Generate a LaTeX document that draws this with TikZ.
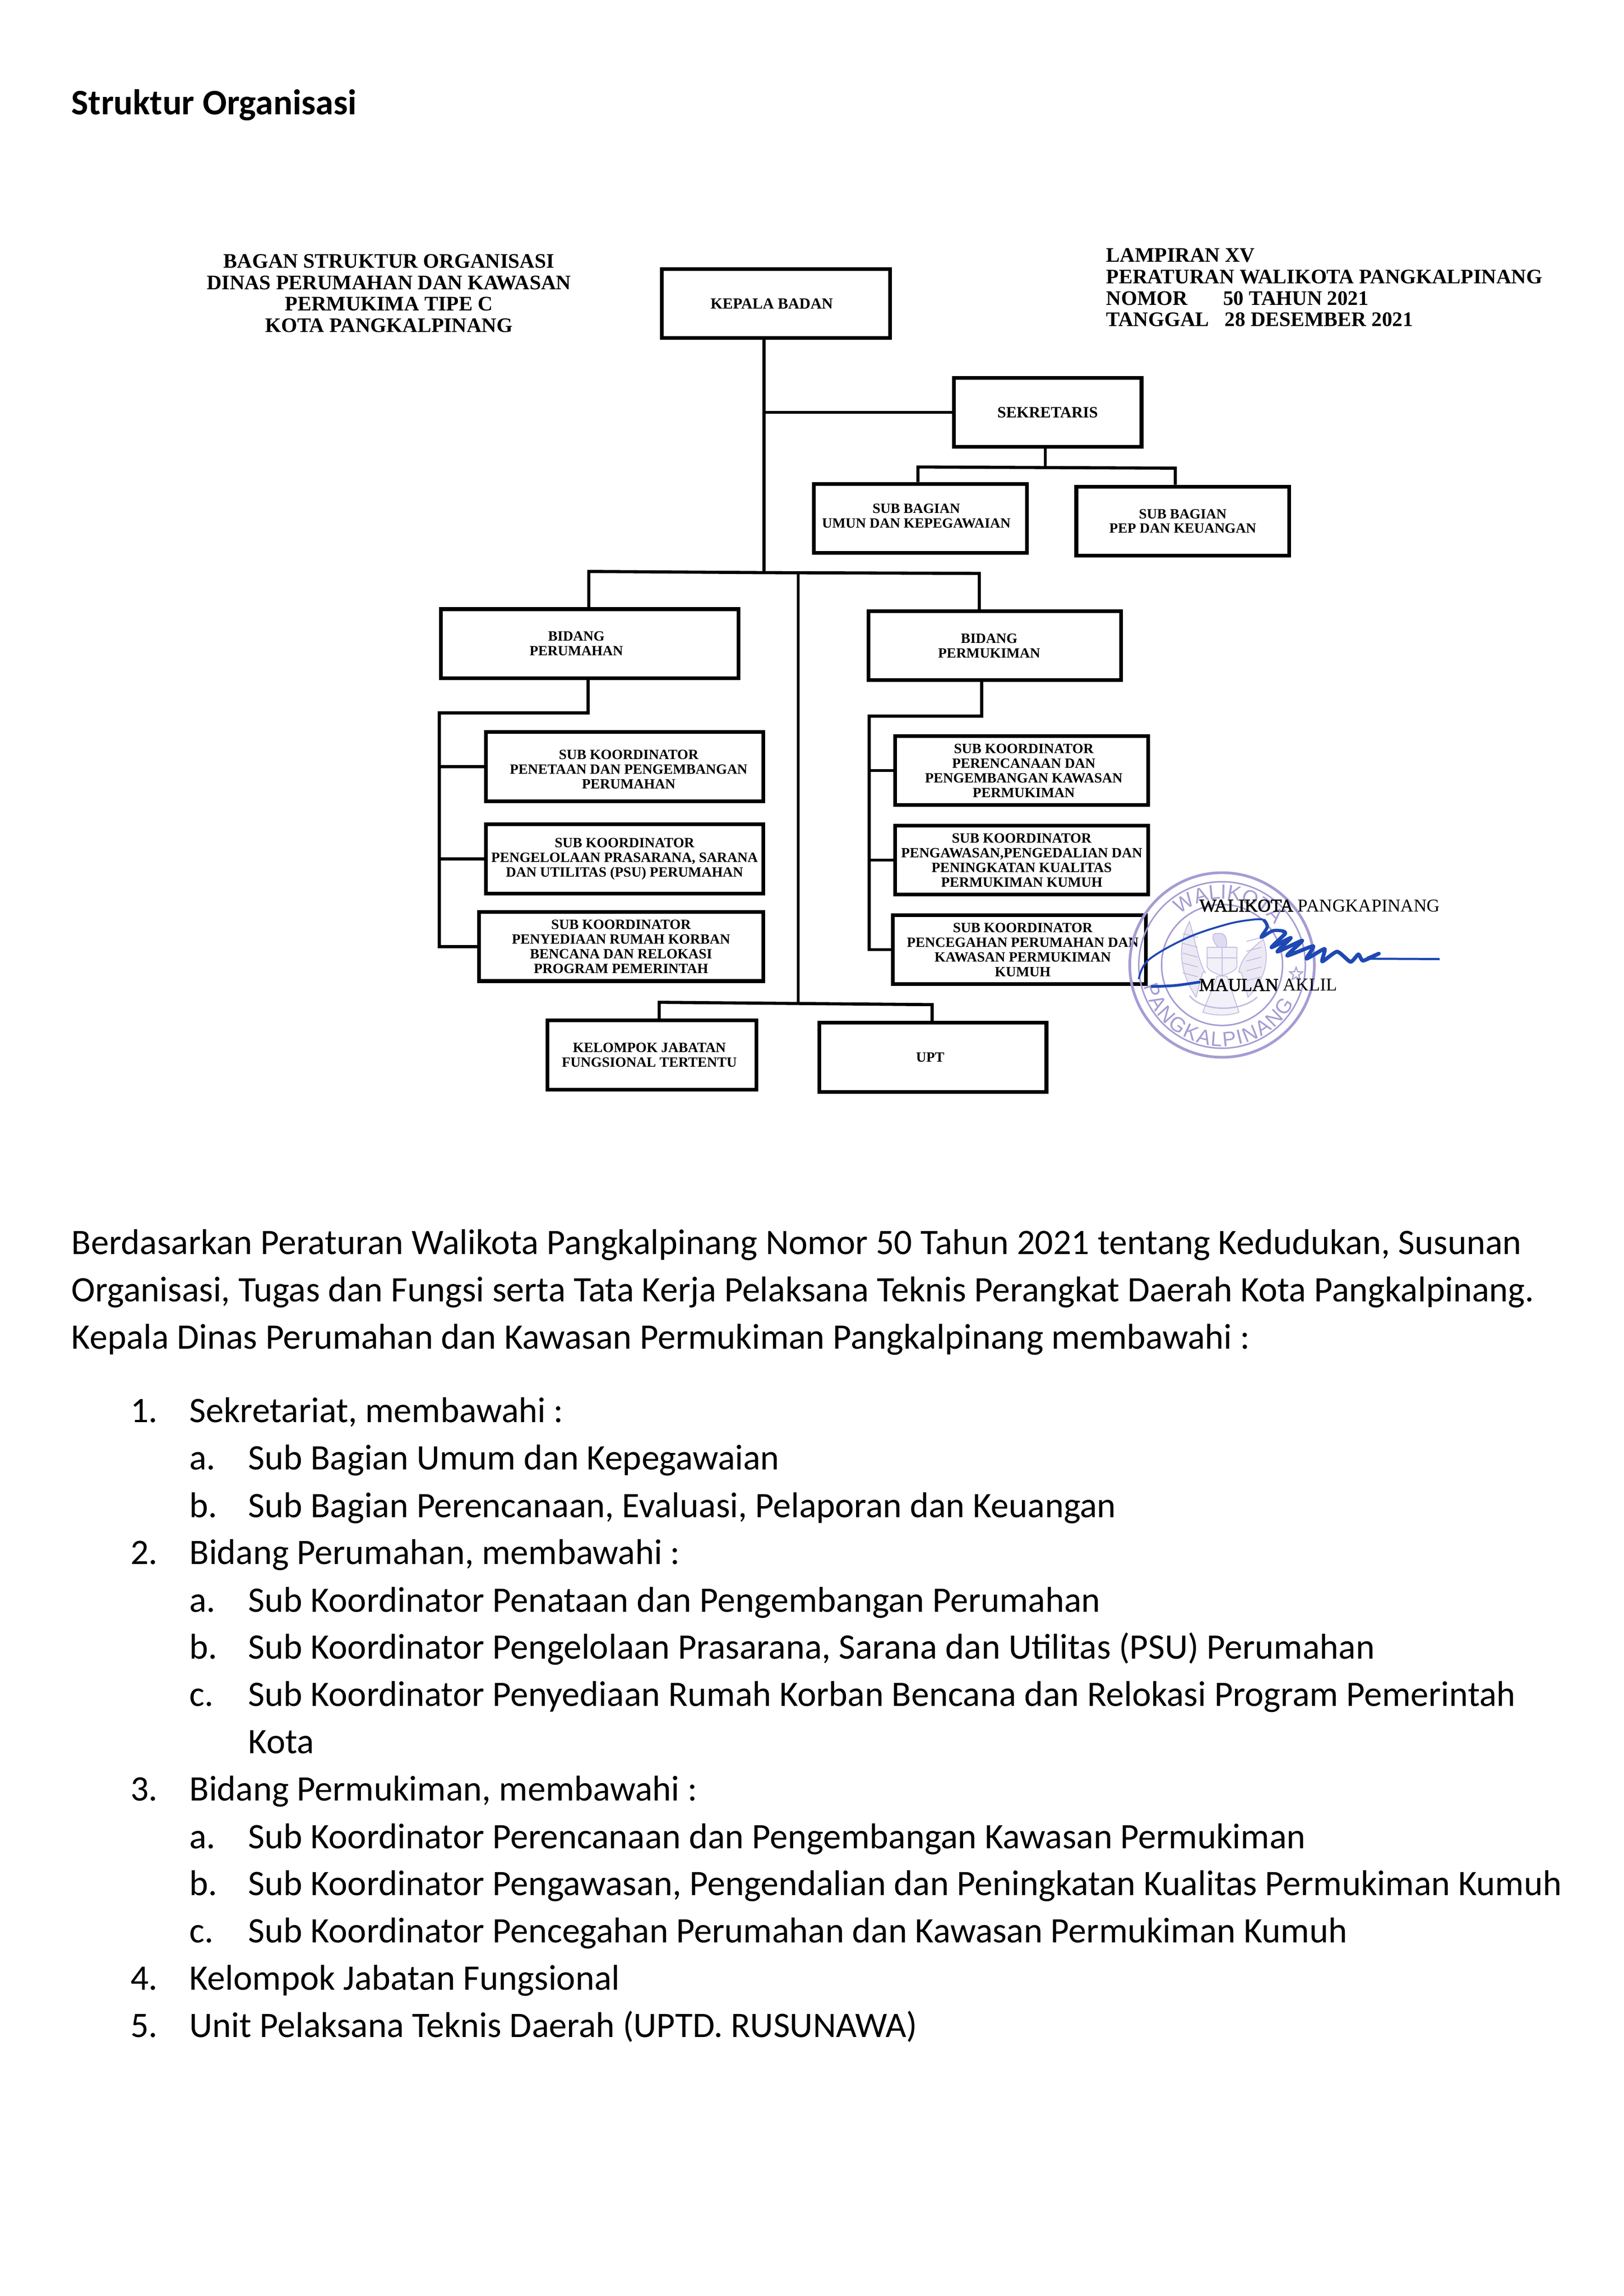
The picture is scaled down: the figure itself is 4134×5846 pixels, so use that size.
\documentclass[tikz,border=0pt]{standalone}
\usepackage{fontspec}
\setmainfont{Carlito}
\newfontfamily\bagan{Liberation Serif}
\newfontface\baganhitam[FakeBold=2]{Liberation Serif}
\newfontfamily\stempelfont{Liberation Sans}
\usetikzlibrary{positioning,calc,decorations.text,shapes.geometric}
\definecolor{stempel}{HTML}{A79CD3}
\definecolor{pena}{HTML}{1E48B4}
\tikzset{
  kotak/.style={draw,line width=1.37pt,inner sep=0pt,minimum height=176*0.14453pt,align=center,
    font=\bagan\bfseries\fontsize{5.2}{5.4}\selectfont},
  garis/.style={line width=1.15pt},
  kepalan/.style={font=\bagan\bfseries\fontsize{7.6}{7.9}\selectfont,inner sep=0pt},
  ttd/.style={font=\bagan\fontsize{6.65}{7}\selectfont,inner sep=0pt,anchor=base west},
  teks/.style={font=\fontsize{13.2}{16}\selectfont,inner sep=0pt,anchor=base west},
  cincin/.style={draw=stempel,line width=0.55pt},
  gambar/.style={draw=stempel!70,line width=0.3pt}
}
\begin{document}
\begin{tikzpicture}[x=0.14453pt,y=-0.14453pt]
\useasboundingbox (0,0) rectangle (4134,5846);
\fill[white] (0,0) rectangle (4134,5846);

% judul
\node[teks,font=\fontsize{13.2}{16}\selectfont\bfseries] (judul) at (181,292) {Struktur Organisasi};
\node[kepalan,align=center] (bagan) at (990,747) {BAGAN STRUKTUR ORGANISASI\\DINAS PERUMAHAN DAN KAWASAN\\PERMUKIMA TIPE C\\KOTA PANGKALPINANG};
\node[kepalan,align=left,anchor=west] (lampiran) at (2815,732) {LAMPIRAN XV\\PERATURAN WALIKOTA PANGKALPINANG\\\makebox[43pt][l]{NOMOR}50 TAHUN 2021\\\makebox[43.6pt][l]{TANGGAL}28 DESEMBER 2021};

% kotak
\node[kotak,minimum width=581*0.14453pt,font=\bagan\bfseries\fontsize{5.7}{5.8}\selectfont] (kepala) at (1975,773) {\hspace*{-3pt}KEPALA BADAN};
\node[kotak,minimum width=478*0.14453pt,font=\bagan\bfseries\fontsize{5.8}{5.8}\selectfont] (sekretaris) at (2667,1050) {SEKRETARIS};
\node[kotak,minimum width=542*0.14453pt] (umum) at (2343,1320) {\hspace*{-3pt}SUB BAGIAN\\\hspace*{-3pt}UMUN DAN KEPEGAWAIAN\rule[-2pt]{0pt}{2pt}};
\node[kotak,minimum width=542*0.14453pt] (pep) at (3011,1327) {SUB BAGIAN\\PEP DAN KEUANGAN};
\node[kotak,minimum width=758*0.14453pt] (perumahan) at (1501,1639) {\hspace*{-9.8pt}BIDANG\\\hspace*{-9.8pt}PERUMAHAN};
\node[kotak,minimum width=643*0.14453pt] (permukiman) at (2532,1644) {\hspace*{-4pt}BIDANG\\\hspace*{-4pt}PERMUKIMAN};
\node[kotak,minimum width=707*0.14453pt] (penataan) at (1590,1952) {\hspace*{3pt}\rule{0pt}{5.4pt}SUB KOORDINATOR\\\hspace*{3pt}PENETAAN DAN PENGEMBANGAN\\\hspace*{3pt}PERUMAHAN};
\node[kotak,minimum width=707*0.14453pt] (psu) at (1590,2187) {SUB KOORDINATOR\\PENGELOLAAN PRASARANA, SARANA\\DAN UTILITAS (PSU) PERUMAHAN};
\node[kotak,minimum width=724*0.14453pt] (korban) at (1581,2410) {SUB KOORDINATOR\\PENYEDIAAN RUMAH KORBAN\\BENCANA DAN RELOKASI\\PROGRAM PEMERINTAH};
\node[kotak,minimum width=644*0.14453pt] (rencana) at (2601,1962) {\hspace*{1.5pt}SUB KOORDINATOR\\\hspace*{1.5pt}PERENCANAAN DAN\\\hspace*{1.5pt}PENGEMBANGAN KAWASAN\\\hspace*{1.5pt}PERMUKIMAN};
\node[kotak,minimum width=644*0.14453pt] (awas) at (2601,2190) {SUB KOORDINATOR\\PENGAWASAN,PENGEDALIAN DAN\\PENINGKATAN KUALITAS\\PERMUKIMAN KUMUH};
\node[kotak,minimum width=644*0.14453pt] (cegah) at (2595,2418) {\hspace*{2.5pt}SUB KOORDINATOR\\\hspace*{2.5pt}PENCEGAHAN PERUMAHAN DAN\\\hspace*{2.5pt}KAWASAN PERMUKIMAN\\\hspace*{2.5pt}KUMUH};
\node[kotak,minimum width=532*0.14453pt] (kelompok) at (1660,2686) {\hspace*{-2pt}KELOMPOK JABATAN\\\hspace*{-2pt}FUNGSIONAL TERTENTU};
\node[kotak,minimum width=578*0.14453pt] (upt) at (2375,2692) {\hspace*{-2pt}UPT};

% garis
\coordinate (simpul) at (1945,1458);
\coordinate (sekA) at (2337,1189);
\coordinate (sekB) at (2992,1192);
\coordinate (sekC) at (2661,1190);
\coordinate (bidA) at (1499,1455);
\coordinate (bidB) at (2493,1460);
\coordinate (tengahA) at (2032,1460);
\coordinate (tengahB) at (2032,2555);
\coordinate (bawahA) at (1678,2552);
\coordinate (bawahB) at (2373,2558);
\coordinate (kiriA) at (1497,1815);
\coordinate (kiriB) at (1118,1815);
\coordinate (kananA) at (2499,1823);
\coordinate (kananB) at (2213,1823);
\draw[garis] (kepala.south -| simpul) -- (simpul);
\draw[garis] (simpul |- sekretaris.west) -- (sekretaris.west);
\draw[garis] (sekretaris.south -| sekC) -- (sekC);
\draw[garis] (umum.north -| sekA) -- (sekA) -- (sekB) -- (pep.north -| sekB);
\draw[garis] (perumahan.north -| bidA) -- (bidA) -- (simpul) -- (bidB) -- (permukiman.north -| bidB);
\draw[garis] (tengahA) -- (tengahB);
\draw[garis] (kelompok.north -| bawahA) -- (bawahA) -- (bawahB) -- (upt.north -| bawahB);
\draw[garis] (perumahan.south -| kiriA) -- (kiriA) -- (kiriB) -- (kiriB |- korban.west) -- (korban.west);
\draw[garis] (kiriB |- penataan.west) -- (penataan.west);
\draw[garis] (kiriB |- psu.west) -- (psu.west);
\draw[garis] (permukiman.south -| kananA) -- (kananA) -- (kananB) -- (kananB |- cegah.west) -- (cegah.west);
\draw[garis] (kananB |- rencana.west) -- (rencana.west);
\draw[garis] (kananB |- awas.west) -- (awas.west);

% stempel
\begin{scope}[shift={(3111,2457)},x=14.453pt,y=14.453pt]
\draw[cincin,line width=1pt] (0,0) circle (2.35);
\draw[cincin] (0,0) circle (2.12);
\draw[cincin] (0,0) circle (1.54);
\path[decorate,decoration={text along path,text align={fit to path},
  text={|\stempelfont\fontsize{7.6}{7.6}\selectfont\color{stempel}|WALIKOTA}}]
  (130:1.68) arc (130:38:1.68);
\path[decorate,decoration={text along path,text align={fit to path},
  text={|\stempelfont\fontsize{7.6}{7.6}\selectfont\color{stempel}|PANGKALPINANG}}]
  (195:2.07) arc (195:332:2.07);
\node[star,star points=5,star point ratio=2.4,draw=stempel,inner sep=0pt,minimum size=5pt] (bintang) at (-7:1.9) {};
% garuda
\filldraw[gambar,fill=stempel!22] (-.83,1.11) .. controls (-1.1,.6) and (-1.15,-.1) .. (-.66,-.82)
  .. controls (-.55,-.4) and (-.5,-.1) .. (-.43,-.19) .. controls (-.6,.1) and (-.65,.5) .. cycle;
\filldraw[gambar,fill=stempel!22] (1.05,.65) .. controls (1.2,.2) and (1.15,-.3) .. (.66,-.82)
  .. controls (.55,-.4) and (.5,-.1) .. (.43,-.19) .. controls (.45,.1) and (.7,.4) .. cycle;
\filldraw[gambar,fill=stempel!15] (-.38,.45) -- (.38,.45) -- (.38,-.05) .. controls (.3,-.2) and (.1,-.22) .. (0,-.28)
  .. controls (-.1,-.22) and (-.3,-.2) .. (-.38,-.05) -- cycle;
\draw[gambar] (-.38,.18) -- (.38,.18) (0,.45) -- (0,-.28);
\filldraw[gambar,fill=stempel!35] (-.1,.45) .. controls (-.25,.6) and (-.3,.85) .. (-.1,.8)
  .. controls (.1,.85) and (.15,.6) .. (.1,.45) -- cycle;
\filldraw[gambar,fill=stempel!15] (-.12,-.28) -- (-.49,-1.2) .. controls (-.2,-1.3) and (.2,-1.3) .. (.43,-1.2) -- (.12,-.28) -- cycle;
\draw[gambar,line width=.5pt] (-.83,-.78) .. controls (-.5,-1.2) and (.5,-1.2) .. (.89,-.82);
\foreach \h in {-.3,-.05,...,.7} {
  \draw[gambar] (-.62,\h) -- (-1,\h+.1);
  \draw[gambar] (.62,\h-.1) -- (1,\h);
}
% tanda tangan
\draw[pena,line width=.7pt] plot[smooth,tension=.6] coordinates {(-2.12,-.36) (-1.87,.13) (-.89,.69) (.14,1.04) (.83,1.16) (1.06,1.15)};
\draw[pena,line width=1.2pt] plot[smooth,tension=.6] coordinates {(1.06,1.15) (1.15,.97) (1,.71) (1.29,.87) (1.52,.87)};
\draw[pena,line width=1.4pt,line join=round] plot[smooth,tension=.35] coordinates {(1.52,.87) (1.61,.8) (1.26,.45) (1.75,.69) (1.41,.34) (2.04,.62) (1.66,.24) (2.32,.48) (2.15,.16) (2.61,.41) (2.55,.09) (2.93,.34) (3.27,.08) (3.47,.27) (3.59,.11) (3.99,.29) (3.7,.16)};
\draw[pena,line width=.8pt] (3.7,.16) -- (5.54,.15);
\draw[pena,line width=1pt] plot[smooth,tension=.6] coordinates {(-1.81,-.55) (-1.18,-.52) (-.55,-.43)};
\end{scope}
\node[ttd] (walikota) at (3052,2321) {{\baganhitam WALIKOTA} PANGKAPINANG};
\node[ttd] (maulan) at (3051,2523) {{\baganhitam MAULAN} AKLIL};

% uraian
\node[teks] (baris1) at (181,3194) {Berdasarkan Peraturan Walikota Pangkalpinang Nomor 50 Tahun 2021 tentang Kedudukan, Susunan};
\node[teks] (baris2) at (181,3314) {Organisasi, Tugas dan Fungsi serta Tata Kerja Pelaksana Teknis Perangkat Daerah Kota Pangkalpinang.};
\node[teks] (baris3) at (181,3435) {Kepala Dinas Perumahan dan Kawasan Permukiman Pangkalpinang membawahi :};
\foreach \y/\lab/\isi in {3622/1./{Sekretariat, membawahi :},3983/2./{Bidang Perumahan, membawahi :},
  4585/3./{Bidang Permukiman, membawahi :},5067/4./{Kelompok Jabatan Fungsional},5187/5./{Unit Pelaksana Teknis Daerah (UPTD. RUSUNAWA)}} {
  \node[teks] (nomor\y) at (331,\y) {\lab};
  \node[teks] (isi\y) at (481,\y) {\isi};
}
\foreach \y/\lab/\isi in {3742/a./{Sub Bagian Umum dan Kepegawaian},3863/b./{Sub Bagian Perencanaan, Evaluasi, Pelaporan dan Keuangan},
  4104/a./{Sub Koordinator Penataan dan Pengembangan Perumahan},4224/b./{Sub Koordinator Pengelolaan Prasarana, Sarana dan Utilitas (PSU) Perumahan},
  4344/c./{Sub Koordinator Penyediaan Rumah Korban Bencana dan Relokasi Program Pemerintah},
  4706/a./{Sub Koordinator Perencanaan dan Pengembangan Kawasan Permukiman},4826/b./{Sub Koordinator Pengawasan, Pengendalian dan Peningkatan Kualitas Permukiman Kumuh},
  4946/c./{Sub Koordinator Pencegahan Perumahan dan Kawasan Permukiman Kumuh}} {
  \node[teks] (huruf\y) at (481,\y) {\lab};
  \node[teks] (sub\y) at (631,\y) {\isi};
}
\node[teks] (kota) at (631,4465) {Kota};
\end{tikzpicture}
\end{document}
